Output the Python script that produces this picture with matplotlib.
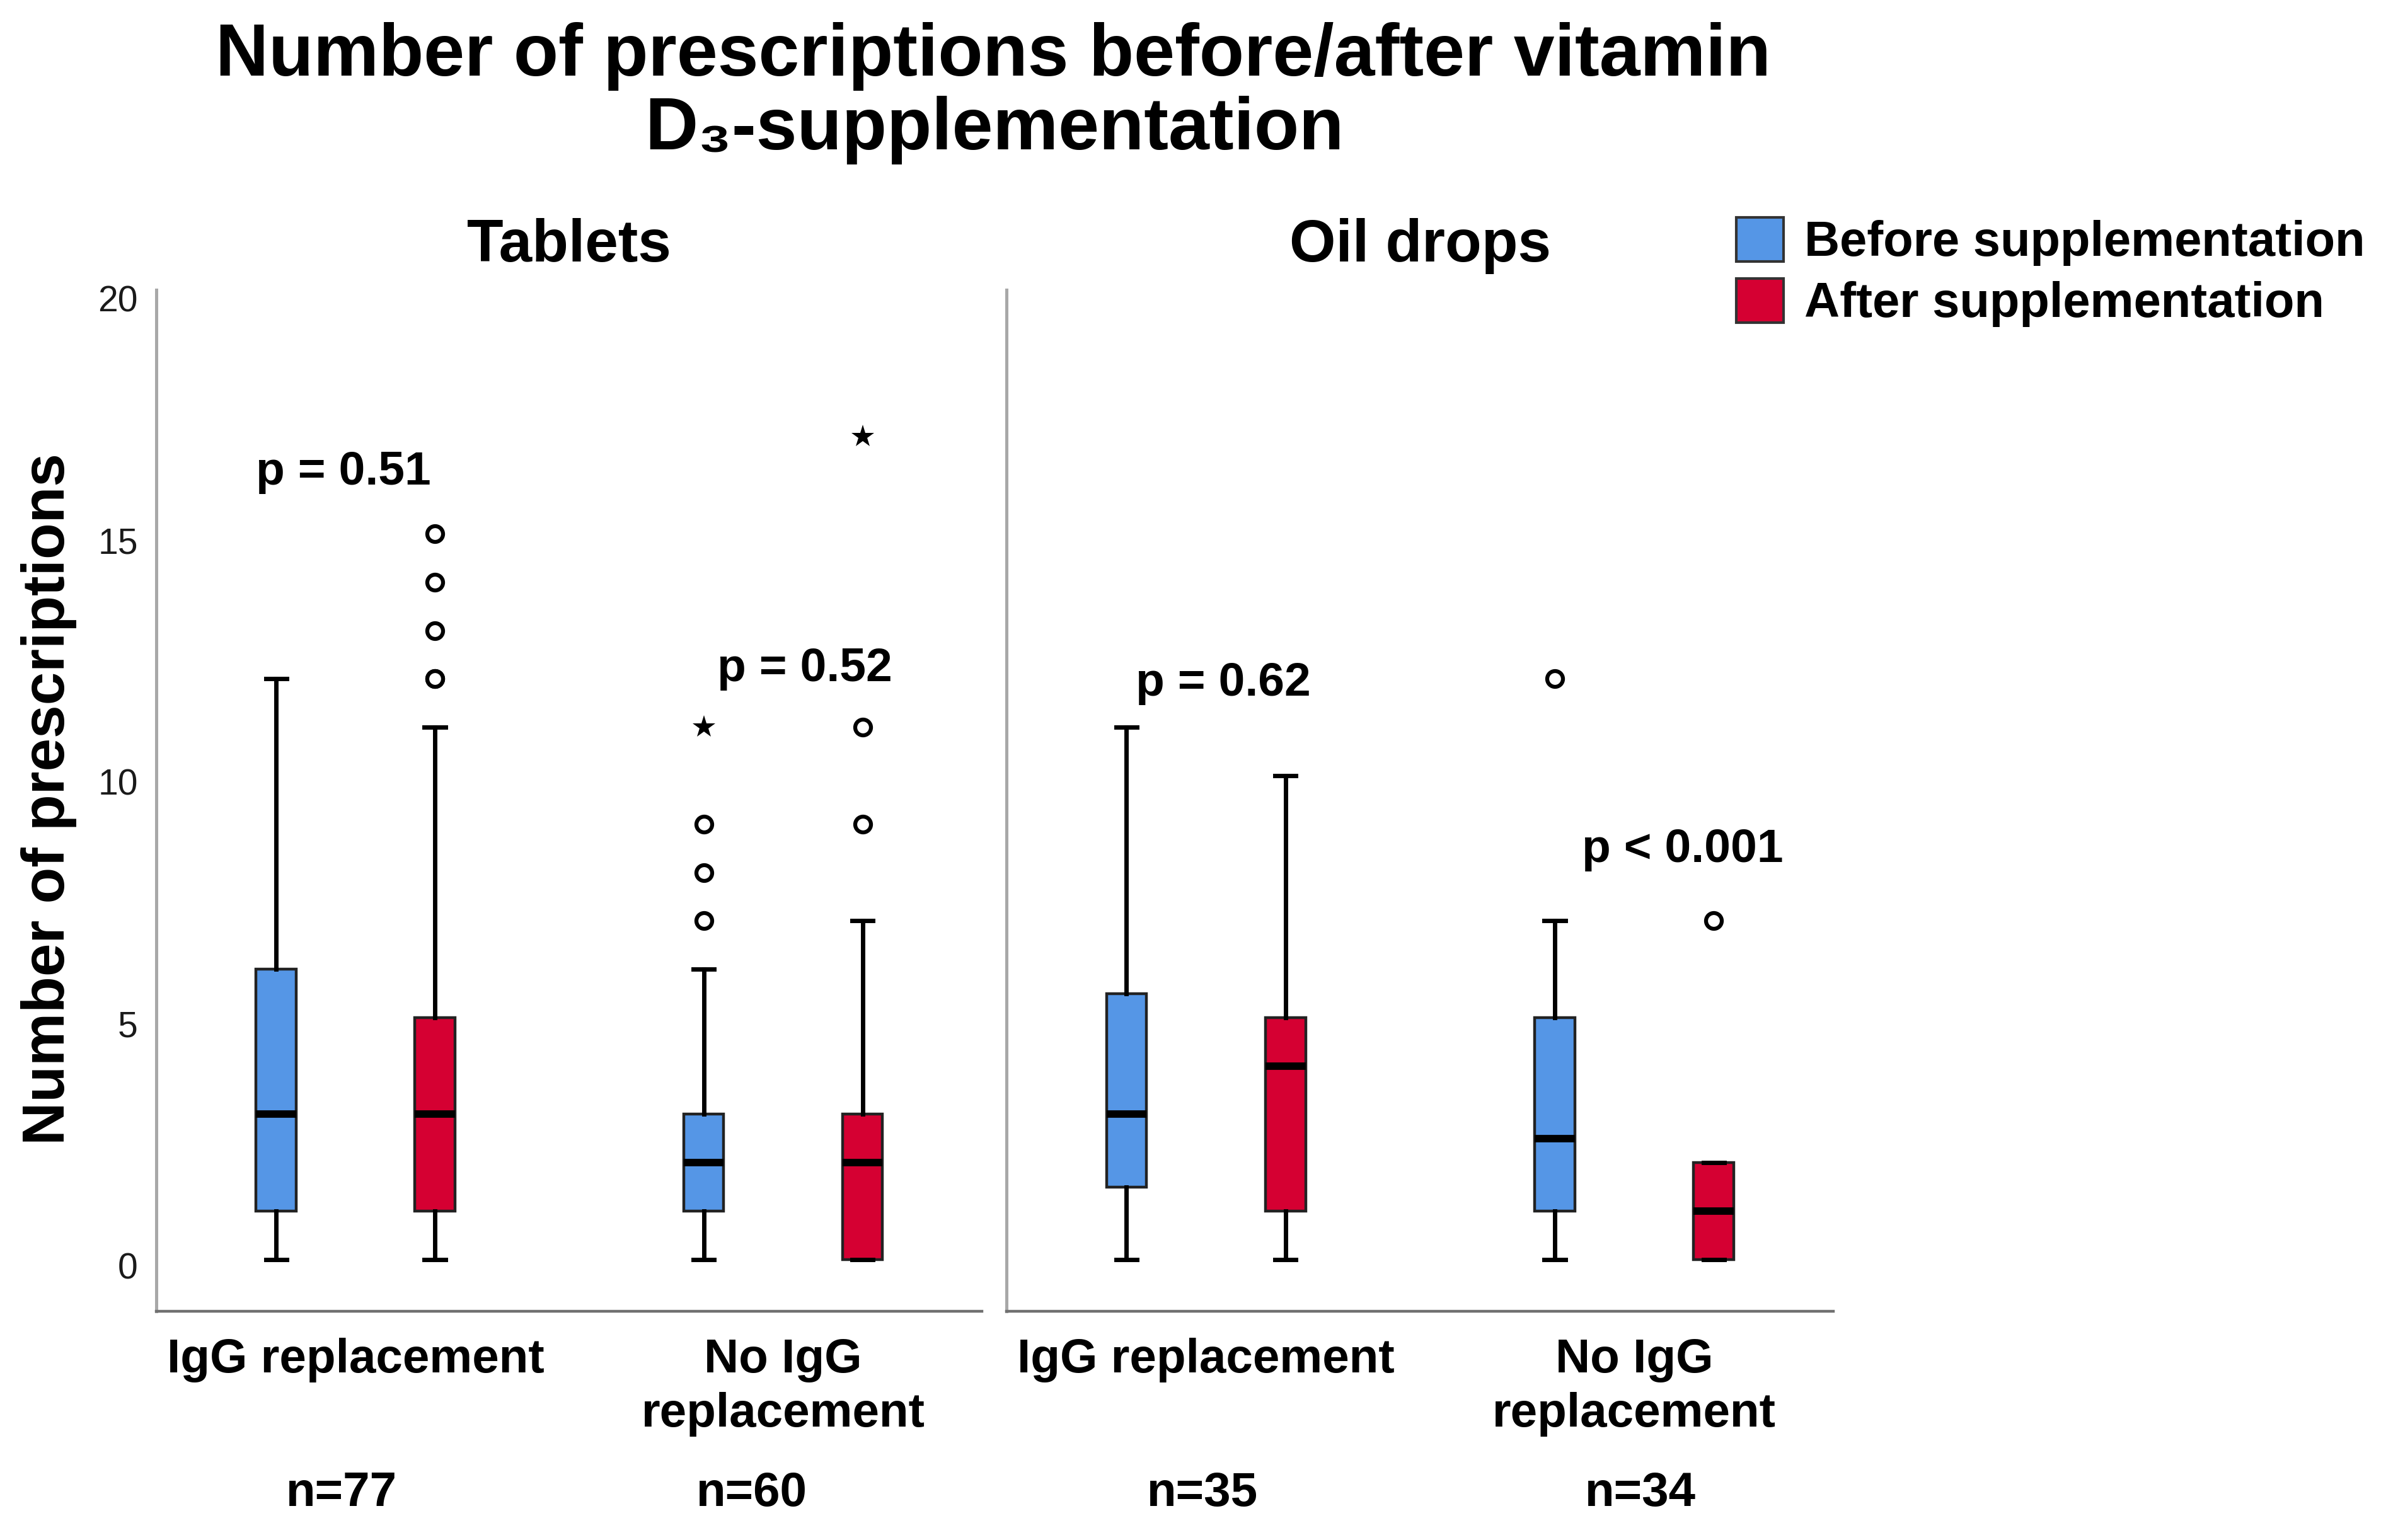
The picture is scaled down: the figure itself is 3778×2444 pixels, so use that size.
import matplotlib
matplotlib.use("Agg")
import matplotlib.pyplot as plt
from matplotlib.patches import Patch
from matplotlib.transforms import ScaledTranslation

plt.rcParams['font.family'] = ['Liberation Sans', 'DejaVu Sans']

# ---------------- data ----------------
panels = ["Tablets", "Oil drops"]
categories = ["IgG replacement", "No IgG\nreplacement"]
series = ["Before supplementation", "After supplementation"]

# order per panel: [IgG before, IgG after, NoIgG before, NoIgG after]
tab_whislo = [0, 0, 0, 0]
tab_q1 = [1, 1, 1, 0]
tab_med = [3, 3, 2, 2]
tab_q3 = [6, 5, 3, 3]
tab_whishi = [12, 11, 6, 7]
tab_circles = [[], [12, 12, 13, 14, 15], [7, 8, 9], [9, 11]]
tab_stars = [[], [], [11], [17]]

oil_whislo = [0, 0, 0, 0]
oil_q1 = [1.5, 1, 1, 0]
oil_med = [3, 4, 2.5, 1]
oil_q3 = [5.5, 5, 5, 2]
oil_whishi = [11, 10, 7, 2]
oil_circles = [[], [], [12], [7]]
oil_stars = [[], [], [], []]

tab_pvalues = ["p = 0.51", "p = 0.52"]
tab_p_y = [16.02, 11.95]
oil_pvalues = ["p = 0.62", "p < 0.001"]
oil_p_y = [11.65, 8.22]

n_labels = ["n=77", "n=60", "n=35", "n=34"]

yticks = [0, 5, 10, 15, 20]

# ---------------- styling ----------------
W, H = 3778, 2444
DPI = 100
fig = plt.figure(figsize=(W / DPI, H / DPI), dpi=DPI)
fig.patch.set_facecolor('white')

def fx(x):
    return x / W

def fy(y):
    return 1 - y / H

BLUE = '#5596E6'
RED = '#D50032'
colors = [BLUE, RED, BLUE, RED]

ax_bottom = fy(2081)
ax_height = (2081 - 460) / H
ax1 = fig.add_axes([fx(248), ax_bottom, (1558 - 248) / W, ax_height])
ax2 = fig.add_axes([fx(1597), ax_bottom, (2909 - 1597) / W, ax_height])

offset = 0.1857
box_w = 0.094
positions = [0 - offset, 0 + offset, 1 - offset, 1 + offset]

def draw_panel(ax, whislo, q1, med, q3, whishi, circles, stars):
    stats = []
    for i in range(4):
        stats.append(dict(med=med[i], q1=q1[i], q3=q3[i],
                          whislo=whislo[i], whishi=whishi[i],
                          fliers=circles[i]))
    bp = ax.bxp(stats, positions=positions, widths=box_w,
                capwidths=0.049, patch_artist=True, showfliers=True,
                boxprops=dict(edgecolor='#222222', linewidth=3.2),
                whiskerprops=dict(color='black', linewidth=5),
                capprops=dict(color='black', linewidth=5),
                medianprops=dict(color='black', linewidth=8.5, solid_capstyle='butt'),
                flierprops=dict(marker='o', markerfacecolor='white',
                                markeredgecolor='black', markersize=18,
                                markeredgewidth=4.5, linestyle='none'))
    for patch, c in zip(bp['boxes'], colors):
        patch.set_facecolor(c)
    for i in range(4):
        if stars[i]:
            ax.plot([positions[i]] * len(stars[i]), stars[i], linestyle='none',
                    marker='*', markersize=27, color='black', markeredgewidth=0,
                    zorder=5)
    ax.set_xlim(-0.466, 1.465)
    ax.set_ylim(-1.07, 20.04)
    for s in ['top', 'right']:
        ax.spines[s].set_visible(False)
    ax.spines['left'].set_color('#a8a8a8')
    ax.spines['left'].set_linewidth(3.6)
    ax.spines['bottom'].set_color('#707070')
    ax.spines['bottom'].set_linewidth(3.2)
    ax.set_xticks([0, 1])
    ax.set_xticklabels(categories, fontsize=55, fontweight='bold',
                       linespacing=1.27)
    ax.tick_params(axis='x', length=0, pad=30, colors='black')
    ax.set_facecolor('white')

draw_panel(ax1, tab_whislo, tab_q1, tab_med, tab_q3, tab_whishi,
           tab_circles, tab_stars)
draw_panel(ax2, oil_whislo, oil_q1, oil_med, oil_q3, oil_whishi,
           oil_circles, oil_stars)

# p-value annotations (left edge positions in data units)
tab_p_x = [-0.233, 0.846]
oil_p_x = [-0.165, 0.878]
for t, x, y in zip(tab_pvalues, tab_p_x, tab_p_y):
    ax1.text(x, y, t, fontsize=54, fontweight='bold', ha='left', va='baseline')
for t, x, y in zip(oil_pvalues, oil_p_x, oil_p_y):
    ax2.text(x, y, t, fontsize=54, fontweight='bold', ha='left', va='baseline')

# y axis
ax1.set_yticks(yticks)
ax1.set_yticklabels([str(v) for v in yticks], fontsize=41, color='#1a1a1a')
ax1.tick_params(axis='y', length=0, pad=21)
for lab in ax1.get_yticklabels():
    lab.set_transform(lab.get_transform() + ScaledTranslation(0, -10 / DPI, fig.dpi_scale_trans))
ax2.set_yticks(yticks)
ax2.set_yticklabels([])
ax2.tick_params(axis='y', length=0)

fig.text(fx(78), fy(1268), "Number of prescriptions", rotation=90,
         fontsize=68, fontweight='bold', ha='center', va='center')

# titles
fig.text(fx(1576), fy(120), "Number of prescriptions before/after vitamin",
         fontsize=84, fontweight='bold', ha='center', va='baseline')
fig.text(fx(1578), fy(237), "D\u2083-supplementation",
         fontsize=84, fontweight='bold', ha='center', va='baseline')

fig.text(fx(903), fy(415), panels[0], fontsize=68, fontweight='bold',
         ha='center', va='baseline')
fig.text(fx(2253), fy(415), panels[1], fontsize=68, fontweight='bold',
         ha='center', va='baseline')

# n labels
n_x = [542, 1193, 1908, 2603]
for t, x in zip(n_labels, n_x):
    fig.text(fx(x), fy(2390), t, fontsize=55, fontweight='bold',
             ha='center', va='baseline')

# legend
handles = [Patch(facecolor=BLUE, edgecolor='#333333', linewidth=3),
           Patch(facecolor=RED, edgecolor='#333333', linewidth=3)]
leg = fig.legend(handles, series, loc='upper left',
                 bbox_to_anchor=(fx(2755), fy(345)), frameon=False,
                 borderpad=0, borderaxespad=0, handlelength=0.97,
                 handleheight=1.0, handletextpad=0.42, labelspacing=0.25,
                 prop=dict(size=56, weight='bold'))

fig.savefig("out.png", dpi=DPI, facecolor='white')
